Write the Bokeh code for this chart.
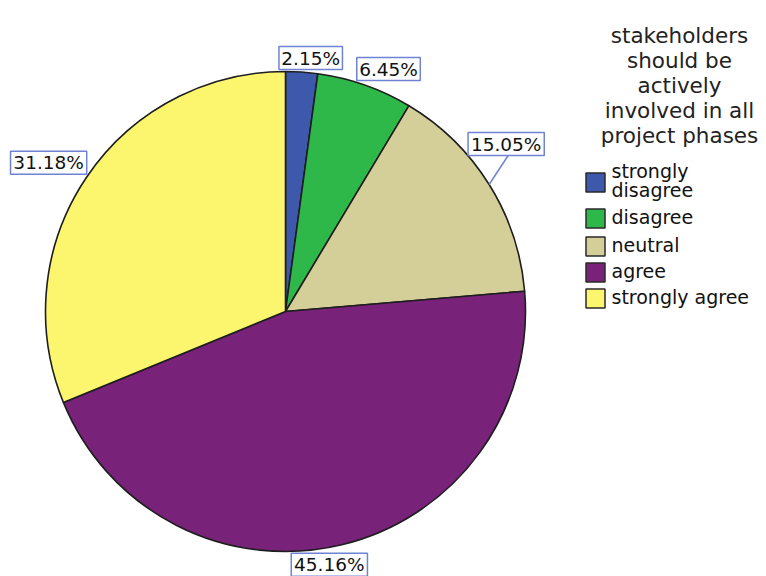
import math
from bokeh.plotting import figure
from bokeh.models import Range1d, ColumnDataSource
from bokeh.core.properties import value
from bokeh.embed import file_html
from bokeh.resources import INLINE

# ---- data ----
categories = ["strongly disagree", "disagree", "neutral", "agree", "strongly agree"]
legend_lines = [["strongly", "disagree"], ["disagree"], ["neutral"], ["agree"], ["strongly agree"]]
percents = [2.15, 6.45, 15.05, 45.16, 31.18]
colors = ["#3e58ac", "#2fb84a", "#d4ce99", "#79227a", "#fcf56e"]
title_lines = ["stakeholders", "should be", "actively", "involved in all", "project phases"]

# ---- layout (image pixel space, y measured downward) ----
W, H = 766, 576
IMG_H = 576
def Y(yimg):
    return IMG_H - yimg

CX, CY, R = 285, 311, 240
label_offsets = [(9, -14), (23.5, -16), (17, -40.5), (-12.4, 20), (-37.6, -15)]
FONT = "DejaVu Sans"

p = figure(width=W, height=H, output_backend="svg", toolbar_location=None,
           x_range=Range1d(0, W), y_range=Range1d(IMG_H - H, IMG_H),
           min_border=0)
p.axis.visible = False
p.grid.visible = False
p.outline_line_color = None
p.background_fill_color = "white"
p.border_fill_color = "white"

total = sum(percents)
starts, ends, mids = [], [], []
cum = 0.0
for v in percents:
    a0 = math.pi / 2 - cum / total * 2 * math.pi
    cum += v
    a1 = math.pi / 2 - cum / total * 2 * math.pi
    starts.append(a0)
    ends.append(a1)
    mids.append((a0 + a1) / 2)

src = ColumnDataSource(dict(start=starts, end=ends, color=colors))
p.wedge(x=CX, y=Y(CY), radius=R, start_angle="start", end_angle="end",
        direction="clock", fill_color="color", line_color="#1e1e1e",
        line_width=1.6, source=src)

# ---- percentage labels ----
box_color = "#6f82d4"
for v, m, (dx, dy) in zip(percents, mids, label_offsets):
    ax = CX + R * math.cos(m)
    ay = CY - R * math.sin(m)
    bx, by = ax + dx, ay + dy
    txt = f"{v:.2f}%"
    bw = 12.7 * len(txt)
    bh = 23
    if abs(dy) > 30:
        p.segment(x0=[ax], y0=[Y(ay)], x1=[bx + 2], y1=[Y(by + bh / 2)],
                  line_color=box_color, line_width=1.5)
    p.rect(x=[bx], y=[Y(by)], width=bw, height=bh, fill_color="white",
           line_color=box_color, line_width=1.5)
    p.text(x=[bx], y=[Y(by)], text=[txt], text_align="center", text_baseline="middle",
           text_font=value(FONT), text_font_size="18.5px", text_color="#111111")

# ---- title ----
for i, t in enumerate(title_lines):
    p.text(x=[679], y=[Y(35 + 25 * i)], text=[t], text_align="center",
           text_baseline="alphabetic", text_font=value(FONT),
           text_font_size="21.5px", text_color="#222222")

# ---- legend ----
sw_centers = [182, 218, 246, 272, 298]
for lines, c, yc in zip(legend_lines, colors, sw_centers):
    p.rect(x=[595], y=[Y(yc)], width=19, height=19, fill_color=c,
           line_color="#2a2a2a", line_width=1.5)
    n = len(lines)
    for j, ln in enumerate(lines):
        ty = yc - 2 + (j - (n - 1) / 2) * 19.5
        p.text(x=[611], y=[Y(ty)], text=[ln], text_align="left",
               text_baseline="middle", text_font=value(FONT),
               text_font_size="19px", text_color="#111111")

open("out.html", "w").write(file_html(p, INLINE))
